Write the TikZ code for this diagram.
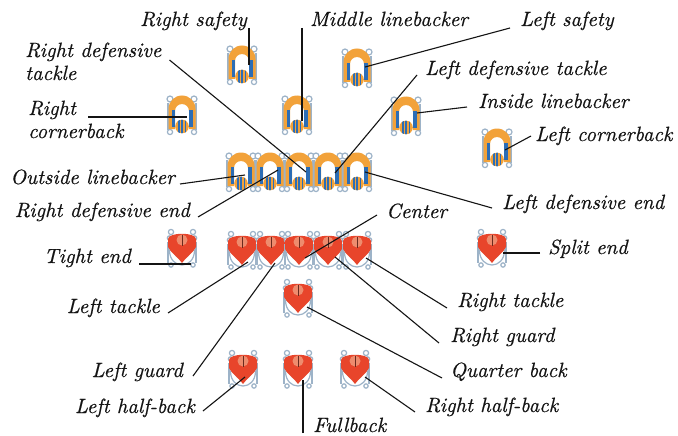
\documentclass[tikz,border=0pt]{standalone}
\usepackage{fontspec}
\newfontfamily\lblfont{lmroman10-italic.otf}[FakeBold=0.5]
\definecolor{ink}{HTML}{141414}
\definecolor{padorange}{HTML}{F2A23A}
\definecolor{padblue}{HTML}{2C6DB5}
\definecolor{gear}{HTML}{9DB3C8}
\definecolor{jersey}{HTML}{E8452B}
\definecolor{helmet}{HTML}{EE8C6E}
\definecolor{maroon}{HTML}{6A2A1E}
\tikzset{
  lbl/.style={font=\lblfont\fontsize{20.6}{23}\selectfont, text=ink, inner sep=0pt},
  leader/.style={draw=ink, line width=1.1pt},
  gearline/.style={draw=gear, line width=1.2pt},
  defender/.pic={
    % hands and feet
    \foreach \sx in {-1,1}{
      \draw[gearline, fill=white] (\sx*12,-16) circle (3);
      \draw[gearline, fill=white] (\sx*12,17) circle (2.6);
      \draw[gearline] (\sx*14,-12) -- (\sx*14,15);
    }
    % shoulder pads: an arch open to the front
    \fill[padorange] (-13.5,14) -- (-13.5,-6) arc[start angle=180, end angle=360, radius=13.5]
      -- (13.5,14) -- (7,14) -- (7,-4) arc[start angle=360, end angle=180, radius=7]
      -- (-7,14) -- cycle;
    % arm stripes
    \fill[padblue] (-10.5,-5) rectangle (-7.3,12);
    \fill[padblue] (7.3,-5) rectangle (10.5,12);
    % striped helmet
    \fill[padorange] (0,11.5) circle (6.8);
    \begin{scope}
      \clip (0,11.5) circle (6.8);
      \fill[padblue] (-4.4,3) rectangle (-2.5,19);
      \fill[padblue] (-0.95,3) rectangle (0.95,19);
      \fill[padblue] (2.5,3) rectangle (4.4,19);
    \end{scope}
  },
  attacker/.pic={
    % hands and legs
    \foreach \sx in {-1,1}{
      \draw[gearline, fill=white] (\sx*11,-16) circle (2.6);
      \draw[gearline, fill=white] (\sx*12.5,-10) circle (2.2);
      \draw[gearline] (\sx*14,-6) -- (\sx*14,15);
      \draw[gearline, fill=white] (\sx*11,17) circle (2.2);
    }
    % lower white band
    \draw[gearline, fill=white] (-12.5,2) .. controls (-12.5,22) and (12.5,22) .. (12.5,2)
      -- (8,2) .. controls (8,13) and (-8,13) .. (-8,2) -- cycle;
    % jersey
    \fill[jersey] (-14,-9) .. controls (-14,-16) and (14,-16) .. (14,-9)
      -- (14,-1) .. controls (11,5) and (4,9) .. (0,15)
      .. controls (-4,9) and (-11,5) .. (-14,-1) -- cycle;
    % helmet
    \fill[helmet] (0,-8) circle (5.5);
    \draw[maroon, line width=1pt] (0,-13.5) -- (0,-2.5);
  }
}
\begin{document}
\begin{tikzpicture}[x=1pt, y=-1pt]
\useasboundingbox[fill=white] (0,0) rectangle (678,436);

% defence
\pic (rs)  at (242,65)  {defender};
\pic (ls)  at (357,68)  {defender};
\pic (mlb) at (297,115) {defender};
\pic (rc)  at (182,115) {defender};
\pic (il)  at (406,116) {defender};
\pic (lc)  at (497,148) {defender};
\foreach \i/\x in {1/241,2/270,3/299,4/328,5/357}
  \pic (dl\i) at (\x,172) {defender};

% offence
\foreach \i/\x in {1/242,2/271,3/299,4/328,5/357}
  \pic (ol\i) at (\x,250) {attacker};
\pic (te)  at (182,248) {attacker};
\pic (se)  at (492,248) {attacker};
\pic (qb)  at (298,298) {attacker};
\pic (lhb) at (243,369) {attacker};
\pic (fb)  at (298,369) {attacker};
\pic (rhb) at (355,369) {attacker};

% points where the leaders touch the players
\coordinate (rsT)  at (249,65);
\coordinate (mlbT) at (302,121);
\coordinate (lsT)  at (365,67);
\coordinate (rdtT) at (306,172);
\coordinate (rcT)  at (187,117);
\coordinate (ldtT) at (335,173);
\coordinate (ilT)  at (417,113);
\coordinate (lcT)  at (505,150);
\coordinate (olbT) at (245,175);
\coordinate (rdeT) at (278,170);
\coordinate (teT)  at (191,264);
\coordinate (ldeT) at (365,172);
\coordinate (cT)   at (305,258);
\coordinate (seT)  at (503,253);
\coordinate (ltT)  at (248,262);
\coordinate (lgT)  at (275,263);
\coordinate (lhbT) at (245,377);
\coordinate (fbT)  at (303,380);
\coordinate (rtT)  at (366,258);
\coordinate (rgT)  at (335,257);
\coordinate (qbT)  at (307,307);
\coordinate (rhbT) at (365,377);

% labels (two-line labels are placed by the baseline of their last line)
\node[lbl, anchor=base east] (rsL)  at (247,26) {Right safety};
\node[lbl, anchor=base west] (mlbL) at (310,26) {Middle linebacker};
\node[lbl, anchor=base west] (lsL)  at (520,26) {Left safety};
\node[lbl, anchor=base west, align=left] (rdtL) at (25,80) {Right defensive\\tackle};
\node[lbl, anchor=base west, align=left] (rcL)  at (28,138) {Right\\cornerback};
\node[lbl, anchor=base west] (ldtL) at (425,75)  {Left defensive tackle};
\node[lbl, anchor=base west] (ilL)  at (478,108) {Inside linebacker};
\node[lbl, anchor=base west] (lcL)  at (535,141) {Left cornerback};
\node[lbl, anchor=base east] (olbL) at (175,184) {Outside linebacker};
\node[lbl, anchor=base east] (rdeL) at (190,217) {Right defensive end};
\node[lbl, anchor=base east] (teL)  at (131,263) {Tight end};
\node[lbl, anchor=base west] (ldeL) at (502,209) {Left defensive end};
\node[lbl, anchor=base west] (cL)   at (386,218) {Center};
\node[lbl, anchor=base west] (seL)  at (548,254) {Split end};
\node[lbl, anchor=base east] (ltL)  at (160,313) {Left tackle};
\node[lbl, anchor=base east] (lgL)  at (183,377) {Left guard};
\node[lbl, anchor=base east] (lhbL) at (195,413) {Left half-back};
\node[lbl, anchor=base west] (fbL)  at (313,432) {Fullback};
\node[lbl, anchor=base west] (rtL)  at (457,307) {Right tackle};
\node[lbl, anchor=base west] (rgL)  at (450,342) {Right guard};
\node[lbl, anchor=base west] (qbL)  at (450,377) {Quarter back};
\node[lbl, anchor=base west] (rhbL) at (425,412) {Right half-back};

% leaders
\draw[leader] ([shift={(2,2)}]rsL.base east) -- (rsT);
\draw[leader] ([shift={(-8,2)}]mlbL.base west) -- (mlbT);
\draw[leader] ([shift={(-10,2)}]lsL.base west) -- (lsT);
\draw[leader] ([shift={(8,-20)}]rdtL.base east) -- (rdtT);
\draw[leader] ([shift={(60,-21)}]rcL.base west) -- (rcT);
\draw[leader] ([shift={(-8,0)}]ldtL.base west) -- (ldtT);
\draw[leader] ([shift={(-11,-1)}]ilL.base west) -- (ilT);
\draw[leader] ([shift={(-4,-5)}]lcL.base west) -- (lcT);
\draw[leader] ([shift={(5,0)}]olbL.base east) -- (olbT);
\draw[leader] ([shift={(8,0)}]rdeL.base east) -- (rdeT);
\draw[leader] ([shift={(8,1)}]teL.base east) -- (teT);
\draw[leader] ([shift={(-10,-1)}]ldeL.base west) -- (ldeT);
\draw[leader] ([shift={(-9,-3)}]cL.base west) -- (cT);
\draw[leader] ([shift={(-8,-1)}]seL.base west) -- (seT);
\draw[leader] ([shift={(8,0)}]ltL.base east) -- (ltT);
\draw[leader] ([shift={(10,-1)}]lgL.base east) -- (lgT);
\draw[leader] ([shift={(8,-2)}]lhbL.base east) -- (lhbT);
\draw[leader] ([shift={(-10,1)}]fbL.base west) -- (fbT);
\draw[leader] ([shift={(-10,1)}]rtL.base west) -- (rtT);
\draw[leader] ([shift={(-11,1)}]rgL.base west) -- (rgT);
\draw[leader] ([shift={(-8,1)}]qbL.base west) -- (qbT);
\draw[leader] ([shift={(-10,0)}]rhbL.base west) -- (rhbT);
\end{tikzpicture}
\end{document}
